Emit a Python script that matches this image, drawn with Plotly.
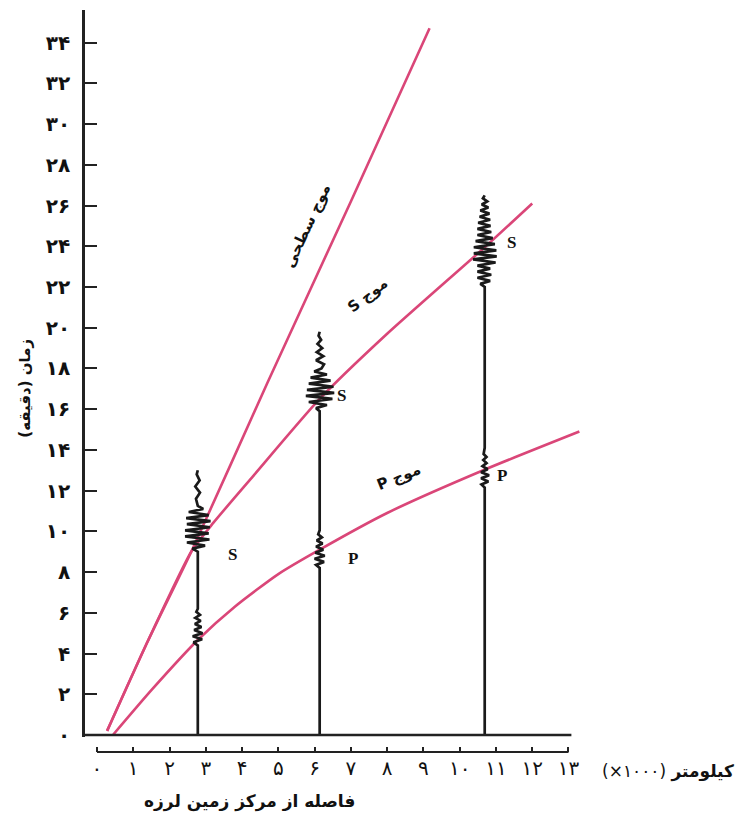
import plotly.graph_objects as go

# travel-time curves: distance (x1000 km) vs time (minutes)
surface_x = [0.28, 1.4, 2.6, 4.7, 7.0, 9.17]
surface_y = [0.2, 4.6, 9.0, 17.3, 26.2, 34.7]

s_x = [0.28, 1.4, 2.6, 3.2, 4.3, 6.14, 8.0, 10.66, 12.0]
s_y = [0.2, 4.6, 9.0, 10.4, 12.7, 16.5, 19.7, 23.9, 26.1]

p_x = [0.44, 1.5, 2.8, 3.8, 5.0, 6.14, 8.0, 10.65, 13.3]
p_y = [0.0, 2.2, 4.7, 6.3, 7.9, 9.1, 10.9, 13.0, 14.9]

# seismogram stations (distance) and their wiggles (time, sideways swing)
station_x = [2.78, 6.14, 10.69]

st1_y = [0, 4.4, 4.55, 4.7, 4.85, 5.0, 5.15, 5.3, 5.45, 5.6, 5.75, 5.9, 6.05, 6.2,
         9.0, 9.15, 9.3, 9.45, 9.6, 9.75, 9.9, 10.05, 10.2, 10.35, 10.5, 10.65, 10.8, 10.95, 11.1, 11.25,
         11.6, 11.9, 12.2, 12.5, 12.8, 13.0]
st1_dx = [0, 0, -0.12, 0.12, -0.14, 0.13, -0.1, 0.1, -0.08, 0.08, -0.07, 0.06, -0.04, 0,
          0, -0.15, 0.2, -0.3, 0.32, -0.35, 0.3, -0.35, 0.33, -0.3, 0.35, -0.32, 0.3, -0.25, 0.15, 0,
          -0.05, 0.06, -0.07, 0.05, -0.03, 0]

st2_y = [0, 8.2, 8.35, 8.5, 8.65, 8.8, 8.95, 9.1, 9.25, 9.4, 9.55, 9.7, 9.85, 10.05,
         15.9, 16.05, 16.2, 16.35, 16.5, 16.65, 16.8, 16.95, 17.1, 17.25, 17.4, 17.55, 17.7, 17.85, 18.0,
         18.2, 18.4, 18.6, 18.8, 19.0, 19.2, 19.4, 19.6, 19.8]
st2_dx = [0, 0, -0.1, 0.12, -0.14, 0.14, -0.12, 0.1, -0.1, 0.08, -0.08, 0.06, -0.04, 0,
          0, -0.1, 0.2, -0.3, 0.35, -0.38, 0.4, -0.35, 0.38, -0.3, 0.3, -0.25, 0.2, -0.15, 0.05,
          0.12, -0.1, 0.1, -0.08, 0.07, -0.06, 0.04, -0.03, 0]

st3_y = [0, 12.15, 12.3, 12.45, 12.6, 12.75, 12.9, 13.05, 13.2, 13.35, 13.5, 13.65, 13.8, 14.1,
         22.0, 22.15, 22.3, 22.45, 22.6, 22.75, 22.9, 23.05, 23.2, 23.35, 23.5, 23.65, 23.8, 23.95,
         24.1, 24.25, 24.4, 24.55, 24.7, 24.85, 25.0, 25.15, 25.3, 25.45, 25.6, 25.75, 25.9, 26.05,
         26.2, 26.35, 26.5]
st3_dx = [0, 0, -0.09, 0.1, -0.1, 0.12, -0.1, 0.08, -0.06, 0.05, -0.04, 0.05, -0.03, 0,
          0, -0.12, 0.15, -0.2, 0.18, -0.2, 0.15, -0.2, 0.3, -0.32, 0.33, -0.3, 0.32, -0.3,
          0.28, -0.25, 0.22, -0.2, 0.18, -0.2, 0.16, -0.18, 0.15, -0.14, 0.13, -0.12, 0.1, -0.08,
          0.07, -0.05, 0]

y_tickvals = [0, 2, 4, 6, 8, 10, 12, 14, 16, 18, 20, 22, 24, 26, 28, 30, 32, 34]
y_ticktext = ['۰', '۲', '۴', '۶', '۸', '۱۰', '۱۲', '۱۴', '۱۶', '۱۸', '۲۰', '۲۲', '۲۴', '۲۶',
              '۲۸', '۳۰', '۳۲', '۳۴']
x_tickvals = [0, 1, 2, 3, 4, 5, 6, 7, 8, 9, 10, 11, 12, 13]
x_ticktext = ['۰', '۱', '۲', '۳', '۴', '۵', '۶', '۷', '۸', '۹', '۱۰', '۱۱', '۱۲', '۱۳']

# wave-name labels and arrival letters
wave_labels = ['موج سطحی', 'S موج', 'P موج']
wave_label_x = [5.79, 7.47, 8.32]
wave_label_y = [25.0, 21.6, 12.65]
wave_label_angle = [-65, -38, -22]

phase_text = ['S', 'S', 'S', 'P', 'P']
phase_x = [3.75, 6.75, 11.43, 7.05, 11.16]
phase_y = [8.85, 16.67, 24.17, 8.68, 12.75]

XR = [-0.33, 13.4]
YR = [-0.1, 35.6]
RED = '#da4678'
FA = 'DejaVu Sans'


def xpaper(v):
    return (v - XR[0]) / (XR[1] - XR[0])


fig = go.Figure()

for cx, cy in [(surface_x, surface_y), (s_x, s_y), (p_x, p_y)]:
    fig.add_trace(go.Scatter(x=cx, y=cy, mode='lines', line=dict(color=RED, width=2.6, shape='spline', smoothing=0.6),
                             hoverinfo='skip'))

for sx, ty, dx in zip(station_x, [st1_y, st2_y, st3_y], [st1_dx, st2_dx, st3_dx]):
    fig.add_trace(go.Scatter(x=[sx + d for d in dx], y=ty, mode='lines',
                             line=dict(color='#1a1a1a', width=2.7), hoverinfo='skip'))

for t, x, y in zip(phase_text, phase_x, phase_y):
    fig.add_annotation(x=x, y=y, text='<b>' + t + '</b>', showarrow=False,
                       font=dict(family='Liberation Serif', size=17, color='#111'))

for t, x, y, a in zip(wave_labels, wave_label_x, wave_label_y, wave_label_angle):
    fig.add_annotation(x=x, y=y, text='<b>' + t + '</b>', showarrow=False, textangle=a,
                       font=dict(family=FA, size=15, color='#111'))

# axis titles
fig.add_annotation(xref='paper', yref='paper', x=-0.12, y=0.49, xanchor='center', yanchor='middle',
                   text='<b>زمان (دقیقه)\u200f</b>', textangle=-90, showarrow=False,
                   font=dict(family=FA, size=15, color='#111'))
fig.add_annotation(xref='x', yref='paper', x=4.2, y=-0.067, xanchor='center', yanchor='middle',
                   text='<b>فاصله از مرکز زمین لرزه</b>',
                   showarrow=False, font=dict(family=FA, size=17, color='#111'))
fig.add_annotation(xref='paper', yref='paper', x=1.171, y=-0.026, xanchor='center', yanchor='middle',
                   text='(×۱۰۰۰) <b>کیلومتر</b>',
                   showarrow=False, font=dict(family=FA, size=17, color='#111'))

# bottom frame line and distance scale bar
fig.add_shape(type='line', xref='x', yref='y', x0=-0.33, x1=13.08, y0=0, y1=0,
              line=dict(color='#222', width=2.6))
fig.add_shape(type='line', xref='paper', yref='paper', x0=xpaper(0), x1=xpaper(13), y0=0, y1=0,
              line=dict(color='#222', width=2))

fig.update_layout(
    width=756, height=822,
    margin=dict(l=77, r=181, t=2, b=78),
    paper_bgcolor='white', plot_bgcolor='white',
    showlegend=False,
    xaxis=dict(range=XR, showgrid=False, zeroline=False, showline=False,
               anchor='free', position=0,
               tickvals=x_tickvals, ticktext=x_ticktext, ticks='inside', ticklen=5,
               tickwidth=2, tickcolor='#222', ticklabelstandoff=2,
               tickfont=dict(family=FA, size=20, color='#111')),
    yaxis=dict(range=YR, domain=[0.0202, 1], showgrid=False, zeroline=False,
               showline=True, linecolor='#222', linewidth=2.6,
               tickvals=y_tickvals, ticktext=y_ticktext, ticks='inside', ticklen=12,
               tickwidth=2, tickcolor='#222', ticklabelstandoff=8,
               tickfont=dict(family=FA, size=20, color='#111', weight='bold')),
)

fig.write_html("out.html")
